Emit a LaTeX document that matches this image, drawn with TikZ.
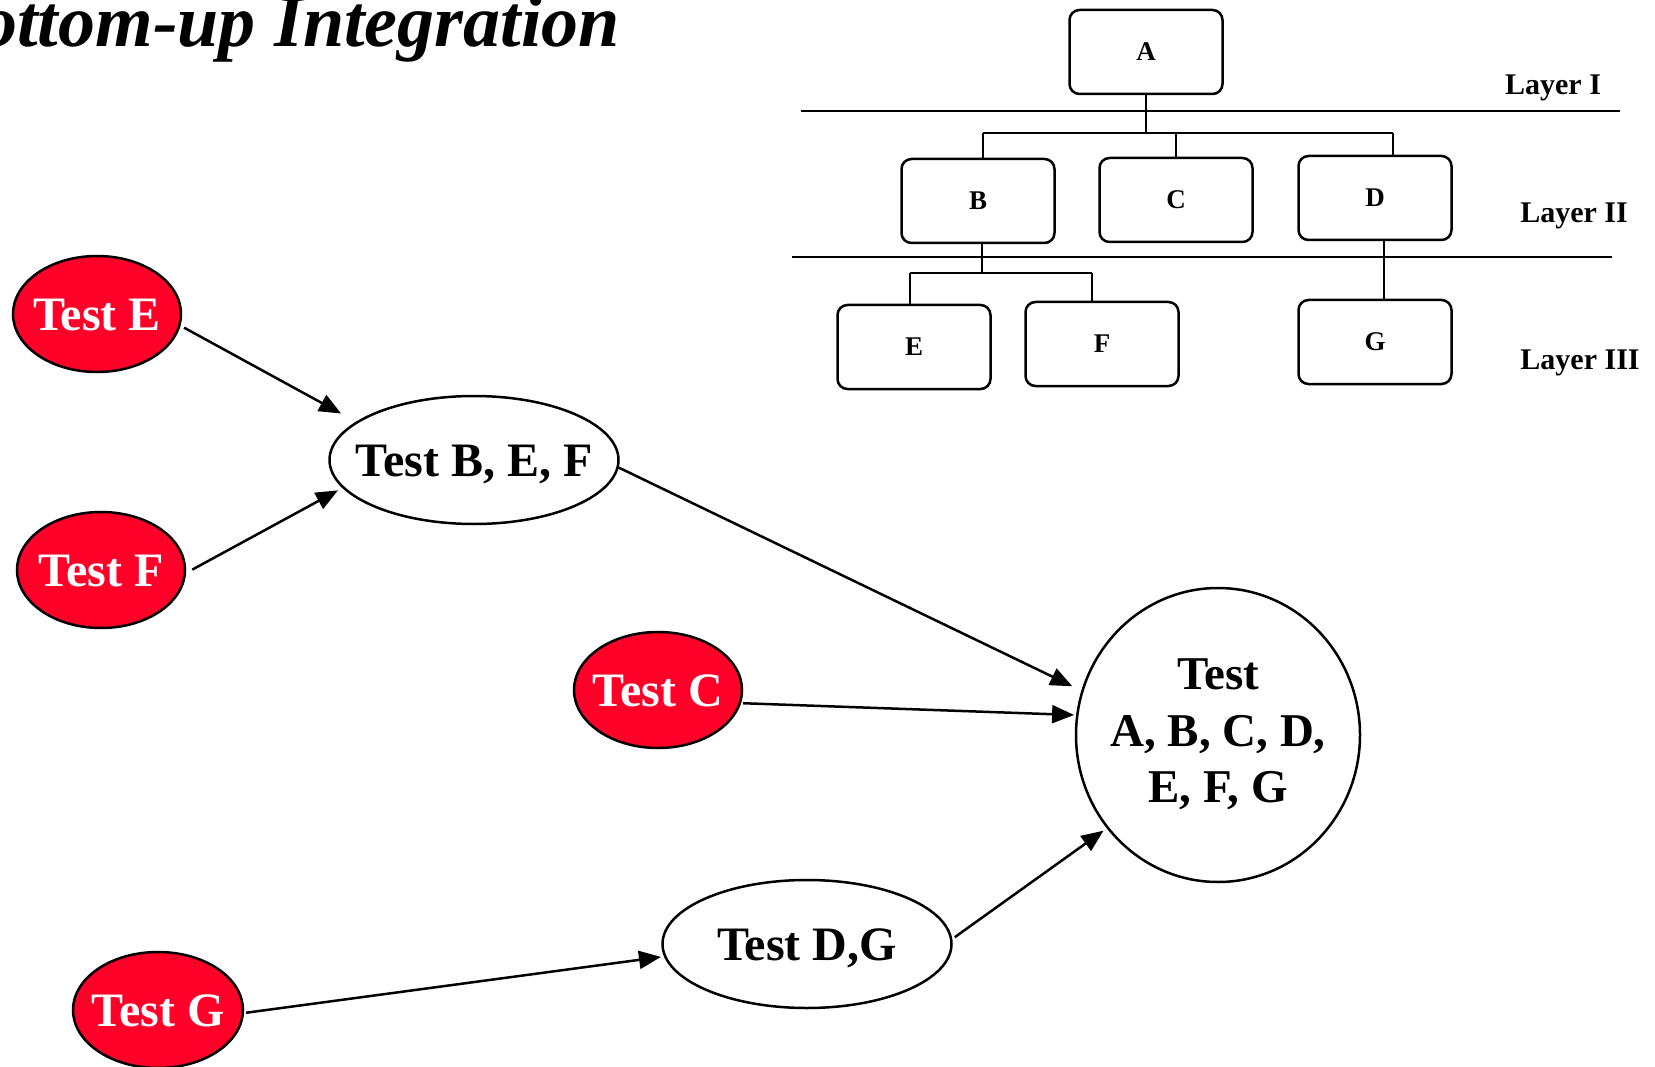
\documentclass[tikz,border=0pt]{standalone}
\usepackage{fontspec}
\setmainfont{Liberation Serif}
\usetikzlibrary{arrows.meta,shapes.geometric}
\definecolor{testred}{RGB}{255,0,41}
\newcommand\zerow[1]{\makebox[0pt]{#1}}
\begin{document}
\begin{tikzpicture}[x=1pt,y=-1pt,
  redtest/.style={ellipse,draw,line width=2.5pt,fill=testred,text=white,inner sep=0pt,
    minimum width=168pt,minimum height=116pt,font=\bfseries\fontsize{48}{56}\selectfont,
    text height=33pt,text depth=0pt},
  whitetest/.style={ellipse,draw,line width=2.5pt,fill=white,inner sep=0pt,
    minimum width=289pt,minimum height=128pt,font=\bfseries\fontsize{48}{56}\selectfont,
    text height=32pt,text depth=0pt},
  bigtest/.style={ellipse,draw,line width=2.5pt,fill=white,inner sep=0pt,
    minimum width=284pt,minimum height=294pt,
    font=\bfseries\fontsize{47}{56.5}\selectfont},
  treebox/.style={draw,rounded corners=10pt,line width=2.5pt,minimum width=153pt,
    minimum height=84pt,inner sep=0pt,font=\bfseries\fontsize{27}{32}\selectfont,text depth=0pt},
  layerlabel/.style={inner sep=0pt,font=\bfseries\fontsize{30}{36}\selectfont},
  treeline/.style={line width=2pt},
  layerline/.style={line width=2.8pt},
  flow/.style={line width=2.5pt,-{Triangle[length=22pt,width=18pt]}},
  titletext/.style={inner sep=0pt,font=\bfseries\itshape\fontsize{74}{80}\selectfont}
]
\useasboundingbox (0,0) rectangle (1655,1067);
\clip (0,0) rectangle (1655,1067);
\fill[white] (0,0) rectangle (1655,1067);

% title
\node[titletext,anchor=base east] (title) at (620,47) {Bottom-up Integration};

% tree
\node[treebox] (A) at (1146,52) {A};
\node[treebox] (B) at (978,201) {B};
\node[treebox] (C) at (1176,200) {C};
\node[treebox] (D) at (1375,198) {D};
\node[treebox] (E) at (914,347) {E};
\node[treebox] (F) at (1102,344) {F};
\node[treebox] (G) at (1375,342) {G};

\node[layerlabel,anchor=base] (L1) at (1553,95) {Layer I};
\node[layerlabel,anchor=base] (L2) at (1574,223) {Layer II};
\node[layerlabel,anchor=base] (L3) at (1580,370) {Layer III};

\draw[layerline] (801,111) -- (1620,111);
\draw[layerline] (792,257) -- (1612,257);

\coordinate (bl1) at (983,133);
\coordinate (br1) at (1393,133);
\draw[treeline] (A.south) -- (A.south |- bl1);
\draw[treeline] (bl1) -- (br1);
\draw[treeline] (bl1) -- (bl1 |- B.north);
\draw[treeline] (C.north |- bl1) -- (C.north);
\draw[treeline] (br1) -- (br1 |- D.north);

\coordinate (bl2) at (910,273);
\coordinate (br2) at (1092,273);
\draw[treeline] ([xshift=4pt]B.south) -- ([xshift=4pt]B.south |- bl2);
\draw[treeline] (bl2) -- (br2);
\draw[treeline] (bl2) -- (bl2 |- E.north);
\draw[treeline] (br2) -- (br2 |- F.north);
\draw[treeline] ([xshift=9pt]D.south) -- ([xshift=9pt]D.south |- G.north);

% test flow
\node[redtest] (tE) at (97,314) {\zerow{Test E}};
\node[redtest] (tF) at (101,570) {\zerow{Test F}};
\node[redtest] (tC) at (658,690) {\zerow{Test C}};
\node[redtest,minimum width=170pt] (tG) at (158,1010) {\zerow{Test G}};
\node[whitetest] (tBEF) at (474,460) {\zerow{Test B, E, F}};
\node[whitetest] (tDG) at (807,944) {\zerow{Test D,G}};
\node[bigtest] (tAll) at (1218,735) {\zerow{\begin{tabular}{@{}c@{}}Test\\A, B, C, D,\\E, F, G\end{tabular}}};

\draw[flow,shorten <=4pt,shorten >=17pt] (tE.-8) -- (tBEF.162);
\draw[flow,shorten <=7pt,shorten >=5pt] (tF.-2) -- (tBEF.192);
\draw[flow,shorten >=10pt] (tBEF.-3) -- (tAll.162);
\draw[flow,shorten <=2pt,shorten >=2pt] (tC.-9) -- (tAll.172);
\draw[flow,shorten <=3pt,shorten >=4pt] (tDG.2) -- (tAll.220);
\draw[flow,shorten <=2pt,shorten >=3pt] (tG.-2) -- (tDG.185);
\end{tikzpicture}
\end{document}
